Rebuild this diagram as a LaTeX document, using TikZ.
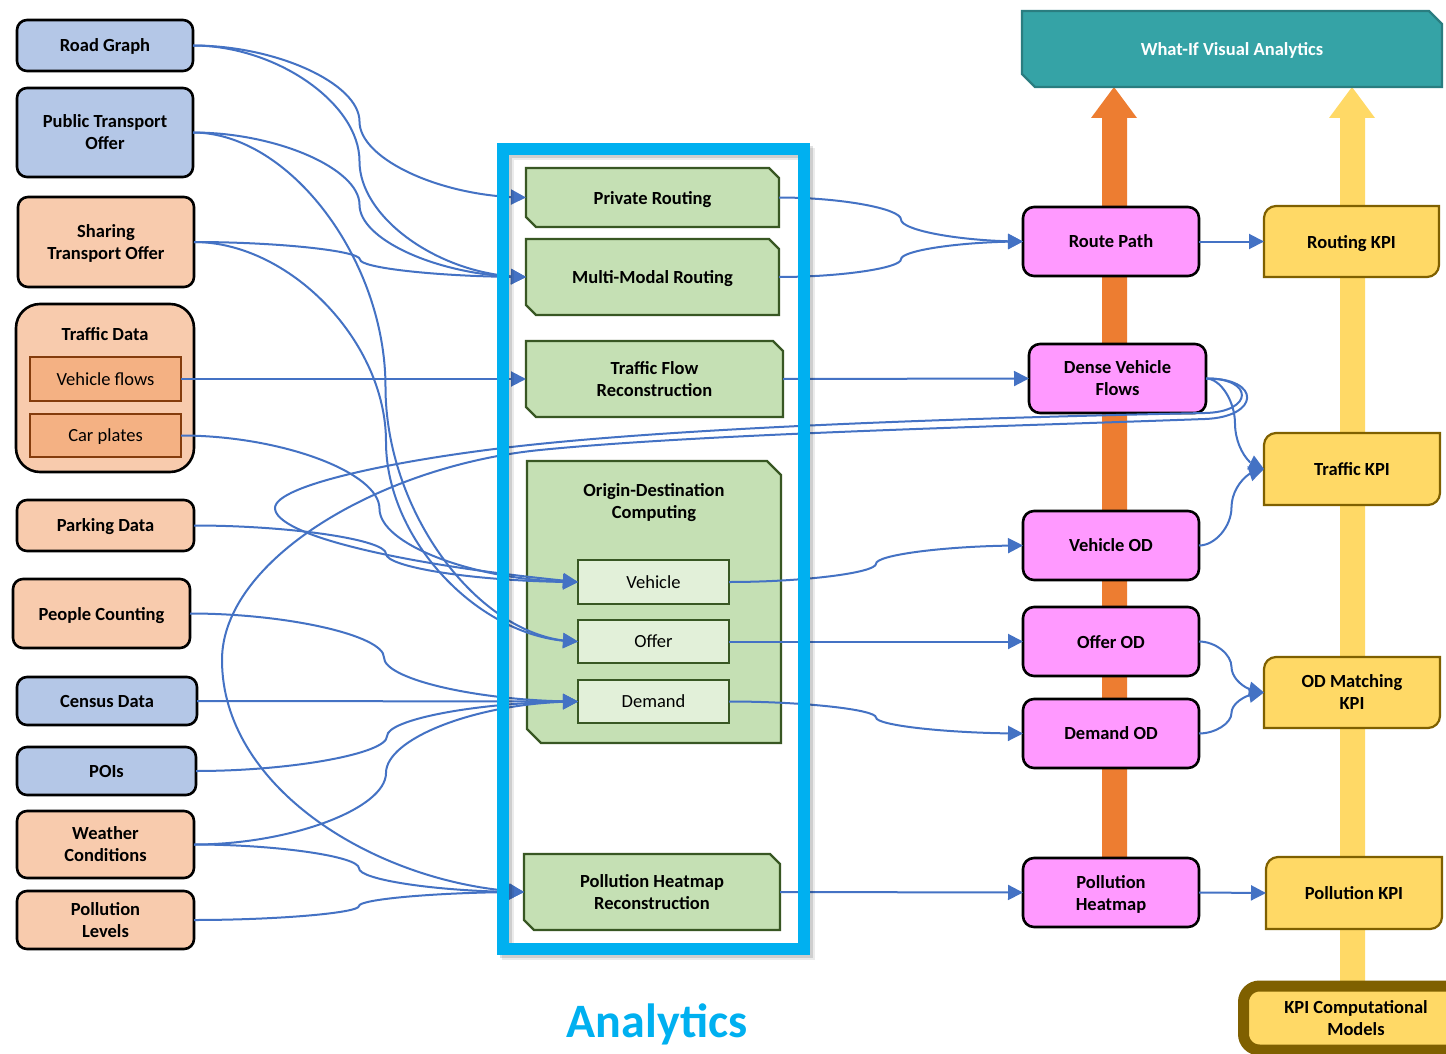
\documentclass[tikz,border=0pt]{standalone}
\usepackage{fontspec}
\setmainfont{Carlito}
\usetikzlibrary{arrows.meta,bending,calc}

\definecolor{srcblue}{HTML}{B4C7E7}
\definecolor{srcorange}{HTML}{F8CBAD}
\definecolor{tdfill}{HTML}{F4B183}
\definecolor{tdbrown}{HTML}{843C0C}
\definecolor{gfill}{HTML}{C5E0B4}
\definecolor{gborder}{HTML}{385723}
\definecolor{glight}{HTML}{E2F0D9}
\definecolor{pinkc}{HTML}{FF99FF}
\definecolor{kfill}{HTML}{FFD966}
\definecolor{kborder}{HTML}{7F6000}
\definecolor{orangec}{HTML}{ED7D31}
\definecolor{tealc}{HTML}{35A3A6}
\definecolor{tealb}{HTML}{2A7D80}
\definecolor{cblue}{HTML}{4472C4}
\definecolor{frameblue}{HTML}{00B0F0}

\pgfdeclarelayer{back}
\pgfdeclarelayer{shapes}
\pgfdeclarelayer{front}
\pgfsetlayers{back,shapes,main,front}

\newcommand\lblfont{\fontsize{18.5}{22}\selectfont\bfseries}
\newcommand\lblreg{\fontsize{18.5}{22}\selectfont}

% box with the top-right and bottom-left corners cut off
\newcommand\snipbox[3]{%
  \begin{pgfonlayer}{shapes}
  \path[#3] ([xshift=-#2]#1.north east) -- ([yshift=-#2]#1.north east) -- (#1.south east)
    -- ([xshift=#2]#1.south west) -- ([yshift=#2]#1.south west) -- (#1.north west) -- cycle;
  \end{pgfonlayer}}

% KPI box: top-left and bottom-right corners rounded
\newcommand\kpibox[1]{%
  \begin{pgfonlayer}{shapes}
  \path[kshape] ([yshift=-12pt]#1.north west) .. controls ([yshift=-5.4pt]#1.north west) and ([xshift=5.4pt]#1.north west) .. ([xshift=12pt]#1.north west)
    -- (#1.north east) -- ([yshift=12pt]#1.south east)
    .. controls ([yshift=5.4pt]#1.south east) and ([xshift=-5.4pt]#1.south east) .. ([xshift=-12pt]#1.south east)
    -- (#1.south west) -- cycle;
  \end{pgfonlayer}}

% curved connector: horizontal at both ends, vertical tangent half way
\newcommand\oc[2]{%
  \draw[conn] let \p1=(#1), \p2=(#2) in (\p1)
    .. controls ({0.75*\x1+0.25*\x2},\y1) and ({0.5*\x1+0.5*\x2},{0.75*\y1+0.25*\y2})
    .. ({0.5*\x1+0.5*\x2},{0.5*\y1+0.5*\y2})
    .. controls ({0.5*\x1+0.5*\x2},{0.25*\y1+0.75*\y2}) and ({0.25*\x1+0.75*\x2},\y2)
    .. (\p2);}

\begin{document}
\begin{tikzpicture}[x=1pt,y=-1pt,
  every node/.style={outer sep=0pt, inner sep=0pt, align=center, font=\lblfont, text depth=0pt},
  sz/.style 2 args={minimum width=#1pt, minimum height=#2pt},
  src/.style={draw=black, line width=2.6pt, rounded corners=10pt},
  srcb/.style={src, fill=srcblue},
  srco/.style={src, fill=srcorange},
  tdin/.style={draw=tdbrown, fill=tdfill, line width=2.5pt, font=\lblreg},
  gshape/.style={draw=gborder, fill=gfill, line width=2.2pt},
  odin/.style={draw=gborder, fill=glight, line width=2.5pt, font=\lblreg},
  tshape/.style={draw=tealb, fill=tealc, line width=2.2pt},
  pinkbox/.style={draw=black, fill=pinkc, line width=2.6pt, rounded corners=11pt},
  kshape/.style={draw=kborder, fill=kfill, line width=2.2pt},
  conn/.style={draw=cblue, line width=2pt, -{Triangle[length=15pt,width=15pt]}}
]
\useasboundingbox (0,0) rectangle (1446,1054);
\begin{pgfonlayer}{back}
\fill[white] (0,0) rectangle (1446,1054);
\end{pgfonlayer}

% ---------------- data sources ----------------
\node[srcb, sz={176}{51}] (rg) at (105,45.5) {Road Graph};
\node[srcb, sz={176}{89}] (pto) at (105,132.5) {Public Transport\\Offer};
\node[srco, sz={176}{90}] (sto) at (106,242) {Sharing\\Transport Offer};
\node[srco, rounded corners=24pt, sz={178}{168}] (td) at (105,388) {};
\node (tdt) at (105,334) {Traffic Data};
\node[tdin, sz={151}{44}] (vf) at (105.5,379) {Vehicle flows};
\node[tdin, sz={151}{43}] (cp) at (105.5,435.5) {Car plates};
\node[srco, sz={177}{51}] (pk) at (105.5,525.5) {Parking Data};
\node[srco, sz={177}{69}] (pc) at (101.5,613.5) {People Counting};
\node[srcb, sz={180}{48}] (cen) at (107,701) {Census Data};
\node[srcb, sz={179}{48}] (poi) at (106.5,771) {POIs};
\node[srco, sz={177}{67}] (wc) at (105.5,844.5) {Weather\\Conditions};
\node[srco, sz={177}{58}] (pl) at (105.5,920) {Pollution\\Levels};

% ---------------- analytics ----------------
\node[sz={253}{59}] (pr) at (652.5,197.5) {Private Routing};
\node[sz={253}{76}] (mm) at (652.5,277) {Multi-Modal Routing};
\node[sz={257}{76}] (tfr) at (654.5,379) {Traffic Flow\\Reconstruction};
\node[sz={254}{282}] (od) at (654,602) {};
\node (odt) at (654,501) {Origin-Destination\\Computing};
\node[odin, sz={151}{44}] (veh) at (653.5,582) {Vehicle};
\node[odin, sz={151}{43}] (off) at (653.5,641.5) {Offer};
\node[odin, sz={151}{43}] (dem) at (653.5,701.5) {Demand};
\node[sz={256}{76}] (phr) at (652,892) {Pollution Heatmap\\Reconstruction};
\node[text=frameblue, font=\fontsize{48}{56}\selectfont\bfseries, anchor=base] (ana) at (657,1037) {Analytics};

\snipbox{pr}{10pt}{gshape}
\snipbox{mm}{10pt}{gshape}
\snipbox{tfr}{10pt}{gshape}
\snipbox{od}{14pt}{gshape}
\snipbox{phr}{10pt}{gshape}

% ---------------- results and KPIs ----------------
\node[sz={420}{76}, text=white] (wi) at (1232,49) {What-If Visual Analytics};
\snipbox{wi}{13pt}{tshape}
\node[pinkbox, sz={176}{69}] (rp) at (1111,241.5) {Route Path};
\node[pinkbox, sz={177}{69}] (dvf) at (1117.5,378.5) {Dense Vehicle\\Flows};
\node[pinkbox, sz={176}{69}] (vod) at (1111,545.5) {Vehicle OD};
\node[pinkbox, sz={176}{69}] (ood) at (1111,641.5) {Offer OD};
\node[pinkbox, sz={176}{69}] (dod) at (1111,733.5) {Demand OD};
\node[pinkbox, sz={176}{69}] (ph) at (1111,892.5) {Pollution\\Heatmap};
\node[sz={175}{71}] (rk) at (1351.5,241.5) {Routing KPI};
\node[sz={176}{72}] (tk) at (1352,469) {Traffic KPI};
\node[sz={176}{71}] (ok) at (1352,692.5) {OD Matching\\KPI};
\node[sz={176}{72}] (pkk) at (1354,893) {Pollution KPI};
\node[draw=kborder, fill=kfill, line width=11pt, rounded corners=16pt, sz={225}{64}] (km) at (1356,1018) {KPI Computational\\Models};
\kpibox{rk}
\kpibox{tk}
\kpibox{ok}
\kpibox{pkk}

% big block arrows up to the visual analytics banner
\begin{pgfonlayer}{back}
\fill[orangec] (1102,890) -- (1102,118) -- (1091,118) -- (1114,87) -- (1137,118) -- (1127,118) -- (1127,890) -- cycle;
\fill[kfill] (1340,985) -- (1340,118) -- (1329,118) -- (1352,87) -- (1375,118) -- (1365,118) -- (1365,985) -- cycle;
\end{pgfonlayer}

% ---------------- connectors: sources to analytics ----------------
\oc{rg.east}{pr.west}
\oc{rg.east}{mm.west}
\oc{pto.east}{mm.west}
\oc{pto.east}{off.west}
\oc{sto.east}{mm.west}
\oc{sto.east}{off.west}
\draw[conn] (vf.east) -- (tfr.west);
\oc{cp.east}{veh.west}
\oc{pk.east}{veh.west}
\oc{pc.east}{dem.west}
\draw[conn] (cen.east) -- (dem.west);
\oc{poi.east}{dem.west}
\oc{wc.east}{dem.west}
\oc{wc.east}{phr.west}
\oc{pl.east}{phr.west}

% ---------------- connectors: analytics to results ----------------
\oc{pr.east}{rp.west}
\oc{mm.east}{rp.west}
\draw[conn] (tfr.east) -- (dvf.west);
\oc{veh.east}{vod.west}
\draw[conn] (off.east) -- (ood.west);
\oc{dem.east}{dod.west}
\draw[conn] (phr.east) -- (ph.west);

% ---------------- connectors: results to KPIs ----------------
\draw[conn] (rp.east) -- (rk.west);
\oc{dvf.east}{tk.west}
\oc{vod.east}{tk.west}
\oc{ood.east}{ok.west}
\oc{dod.east}{ok.west}
\draw[conn] (ph.east) -- (pkk.west);

% dense vehicle flows feed back into the analytics
\draw[conn] (dvf.east) .. controls (1254,378) and (1254,412) .. (1205,413)
  .. controls (1000,417.2) and (700,426) .. (520,446)
  .. controls (400,459.3) and (275,485) .. (275,508)
  .. controls (275,535) and (400,565) .. (veh.west);
\draw[conn] (dvf.east) .. controls (1262,378) and (1260,417) .. (1205,419)
  .. controls (1000,426.5) and (700,434) .. (540,450)
  .. controls (380,466) and (222,560) .. (222,660)
  .. controls (222,790) and (380,885) .. (phr.west);

% ---------------- analytics frame ----------------
\begin{pgfonlayer}{front}
\draw[line width=12pt, black, opacity=0.08] (508,154) rectangle (809,954);
\draw[line width=12pt, black, opacity=0.12] (506,152) rectangle (807,952);
\draw[line width=12pt, frameblue] (503,149) rectangle (804,949);
\end{pgfonlayer}
\end{tikzpicture}
\end{document}
